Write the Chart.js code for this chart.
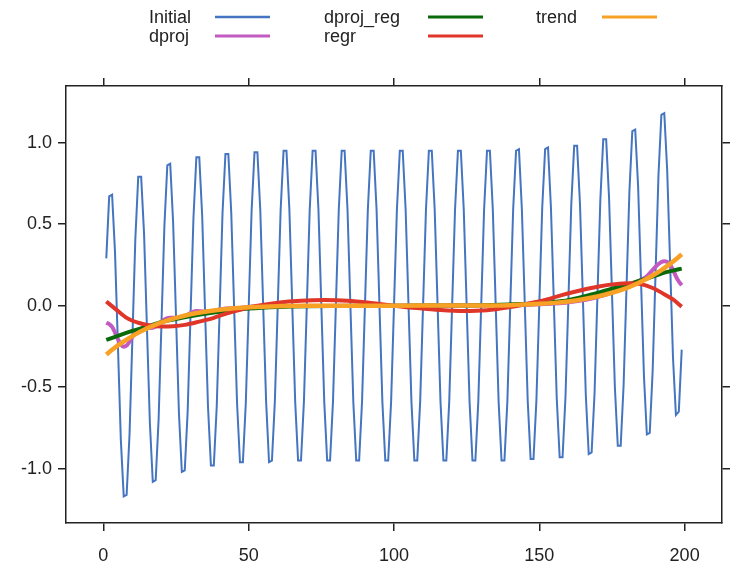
<!DOCTYPE html>
<html>
<head>
<meta charset="utf-8">
<script src="https://cdn.jsdelivr.net/npm/chart.js@4.4.1/dist/chart.umd.min.js"></script>
<style>
  html, body { margin: 0; padding: 0; background: #fff; }
  #wrap { width: 730px; height: 567px; }
</style>
</head>
<body>
<div id="wrap"><canvas id="c" width="730" height="567"></canvas></div>
<script>
  // --- data -----------------------------------------------------------
  // Initial series, one value per step t = 1..199
  const initialValues = [
    0.29, 0.67, 0.68, 0.33, -0.24, -0.82, -1.17, -1.16, -0.79, -0.19,
    0.41, 0.79, 0.79, 0.44, -0.14, -0.72, -1.08, -1.07, -0.70, -0.10,
    0.49, 0.86, 0.87, 0.51, -0.07, -0.66, -1.02, -1.01, -0.65, -0.05,
    0.54, 0.91, 0.91, 0.55, -0.04, -0.62, -0.98, -0.98, -0.62, -0.03,
    0.57, 0.93, 0.93, 0.57, -0.02, -0.60, -0.96, -0.96, -0.60, -0.01,
    0.58, 0.94, 0.94, 0.58, -0.01, -0.59, -0.96, -0.95, -0.59, 0.00,
    0.59, 0.95, 0.95, 0.59, 0.00, -0.59, -0.95, -0.95, -0.59, 0.00,
    0.59, 0.95, 0.95, 0.59, 0.00, -0.59, -0.95, -0.95, -0.59, 0.00,
    0.59, 0.95, 0.95, 0.59, 0.00, -0.59, -0.95, -0.95, -0.59, 0.00,
    0.59, 0.95, 0.95, 0.59, 0.00, -0.59, -0.95, -0.95, -0.59, 0.00,
    0.59, 0.95, 0.95, 0.59, 0.00, -0.59, -0.95, -0.95, -0.59, 0.00,
    0.59, 0.95, 0.95, 0.59, 0.00, -0.59, -0.95, -0.95, -0.59, 0.00,
    0.59, 0.95, 0.95, 0.59, 0.00, -0.59, -0.95, -0.95, -0.59, 0.00,
    0.59, 0.95, 0.95, 0.59, 0.00, -0.59, -0.95, -0.95, -0.59, 0.00,
    0.59, 0.95, 0.96, 0.59, 0.01, -0.58, -0.94, -0.94, -0.58, 0.01,
    0.60, 0.96, 0.97, 0.60, 0.02, -0.57, -0.93, -0.93, -0.56, 0.03,
    0.62, 0.98, 0.98, 0.62, 0.04, -0.55, -0.91, -0.90, -0.54, 0.06,
    0.65, 1.02, 1.02, 0.66, 0.08, -0.50, -0.86, -0.86, -0.49, 0.11,
    0.70, 1.07, 1.08, 0.73, 0.15, -0.43, -0.79, -0.78, -0.40, 0.20,
    0.80, 1.17, 1.18, 0.83, 0.26, -0.32, -0.67, -0.65, -0.27
  ];
  const initialT = initialValues.map((v, i) => i + 1);

  // dproj
  const dprojT = [1, 2, 3, 4, 5, 6, 7, 8, 9, 10, 11, 12, 14, 17, 19, 21, 23, 26, 29, 32, 35, 38,
    42, 46, 50, 55, 60, 100, 140, 145, 150, 154, 158, 162, 166, 170, 175, 178, 181, 184, 187, 189,
    191, 192, 193, 194, 195, 196, 197, 198, 199];
  const dprojVals = [-0.105, -0.113, -0.13, -0.165, -0.205, -0.238, -0.252, -0.245, -0.22, -0.19, -0.168, -0.152,
    -0.138, -0.135, -0.115, -0.085, -0.075, -0.074, -0.055, -0.033, -0.036, -0.033,
    -0.017, -0.016, -0.008, -0.004, -0.002, 0, 0.002, 0.004, 0.008, 0.012,
    0.016, 0.026, 0.036, 0.052, 0.08, 0.1, 0.125, 0.15, 0.18, 0.22,
    0.255, 0.268, 0.273, 0.268, 0.25, 0.22, 0.18, 0.148, 0.125];

  // dproj_reg
  const dprojRegT = [1, 5, 10, 15, 20, 27, 35, 43, 50, 60, 70, 100, 130, 140, 150,
    158, 164, 168, 172, 176, 180, 184, 188, 192, 196, 199];
  const dprojRegVals = [-0.21, -0.185, -0.155, -0.128, -0.10, -0.075, -0.05, -0.03, -0.018,
    -0.008, -0.003, 0, 0.003, 0.008, 0.015,
    0.028, 0.05, 0.068, 0.088, 0.108, 0.128, 0.15, 0.172, 0.197, 0.215, 0.227];

  // regr
  const regrT = [1, 4, 8, 12, 16, 20, 24, 28, 33, 38, 42, 47, 52, 60, 68, 76, 84, 92, 100, 108,
    116, 124, 132, 140, 146, 152, 158, 164, 170, 176, 181, 185, 189, 193, 196, 199];
  const regrVals = [0.025, -0.018, -0.075, -0.105, -0.122, -0.128, -0.126, -0.118, -0.098, -0.075,
    -0.05, -0.025, -0.004, 0.018, 0.03, 0.034, 0.03, 0.017, 0, -0.015,
    -0.027, -0.033, -0.028, -0.008, 0.012, 0.035, 0.066, 0.093, 0.116, 0.132,
    0.138, 0.132, 0.108, 0.07, 0.038, -0.006];

  // trend
  const trendT = [1, 3, 5, 8, 11, 14, 17, 20, 25, 30, 35, 40, 45, 50, 60, 70, 100, 130, 140,
    150, 155, 160, 165, 170, 175, 180, 183, 186, 189, 192, 195, 197, 199];
  const trendVals = [-0.300, -0.271, -0.244, -0.208, -0.176, -0.148, -0.124, -0.103,
    -0.075, -0.053, -0.037, -0.025, -0.016, -0.010, -0.003, -0.001, 0, 0.001, 0.003,
    0.011, 0.017, 0.026, 0.039, 0.056, 0.079, 0.108, 0.130, 0.155, 0.185, 0.218, 0.256, 0.285, 0.315];

  const xTicks = [0, 50, 100, 150, 200];
  const yTicks = [-1.0, -0.5, 0.0, 0.5, 1.0];

  // --- helpers --------------------------------------------------------
  const FONT = '"Liberation Sans", Arial, Helvetica, sans-serif';
  const INK = '#222';

  function pts(xs, ys) { //pair up x and y arrays
    return xs.map((x, i) => ({x: x, y: ys[i]}));
  }

  function line(label, xs, ys, color, width, order) {
    return {
      label: label,
      data: pts(xs, ys),
      borderColor: color,
      backgroundColor: color,
      borderWidth: width,
      pointRadius: 0,
      cubicInterpolationMode: width > 2 ? 'monotone' : 'default',
      tension: 0,
      fill: false,
      order: order
    };
  }

  // one axis of the lattice-style box: outward ticks, labels optional
  function axis(position, min, max, ticks, size, labels) {
    const horiz = position === 'bottom' || position === 'top';
    return {
      type: 'linear',
      position: position,
      min: min,
      max: max,
      afterBuildTicks: (s) => { s.ticks = ticks.map((v) => ({value: v})); },
      afterFit: (s) => { if(horiz) s.height = size; else s.width = size; },
      ticks: {
        display: true,
        autoSkip: false,
        maxRotation: 0,
        padding: horiz ? 14 : 6,
        color: INK,
        font: {family: FONT, size: 18},
        callback: labels ? ((v) => horiz ? String(v) : v.toFixed(1)) : (() => '')
      },
      grid: {drawOnChartArea: false, drawTicks: true, tickLength: 8, color: INK, lineWidth: 1.5},
      border: {display: true, color: INK, width: 1.5}
    };
  }

  /* Legend laid out in three columns of two rows, text first then a line sample */
  const latticeLegend = {
    id: 'latticeLegend',
    afterDraw(chart) {
      const ctx = chart.ctx;
      const cols = [{text: 149, line: 215}, {text: 324, line: 428}, {text: 536, line: 602}];
      const rows = [17, 36];
      ctx.save();
      ctx.font = '18px ' + FONT;
      ctx.textBaseline = 'middle';
      ctx.textAlign = 'left';
      chart.data.datasets.forEach((ds, i) => {
        const c = cols[Math.floor(i / 2)], y = rows[i % 2];
        ctx.fillStyle = INK;
        ctx.fillText(ds.label, c.text, y + 1);
        ctx.strokeStyle = ds.borderColor;
        ctx.lineWidth = ds.borderWidth > 2 ? 3 : 2.5;
        ctx.beginPath();
        ctx.moveTo(c.line, y);
        ctx.lineTo(c.line + 55, y);
        ctx.stroke();
      });
      ctx.restore();
    }
  };

  const xMin = -12.86, xMax = 212.86, yMin = -1.333, yMax = 1.347;

  new Chart(document.getElementById('c'), {
    type: 'line',
    data: {
      datasets: [
        line('Initial', initialT, initialValues, '#4575C0', 2, 5),
        line('dproj', dprojT, dprojVals, '#C25AC2', 4, 4),
        line('dproj_reg', dprojRegT, dprojRegVals, '#0A6A0A', 4, 3),
        line('regr', regrT, regrVals, '#E0362A', 4, 2),
        line('trend', trendT, trendVals, '#F7A125', 4.5, 1)
      ]
    },
    options: {
      responsive: false,
      animation: false,
      devicePixelRatio: 1,
      layout: {padding: 0},
      plugins: {legend: {display: false}, tooltip: {enabled: false}},
      scales: {
        x: axis('bottom', xMin, xMax, xTicks, 44, true),
        x2: axis('top', xMin, xMax, xTicks, 86, false),
        y: axis('left', yMin, yMax, yTicks, 66, true),
        y2: axis('right', yMin, yMax, yTicks, 8, false)
      }
    },
    plugins: [latticeLegend]
  });
</script>
</body>
</html>
